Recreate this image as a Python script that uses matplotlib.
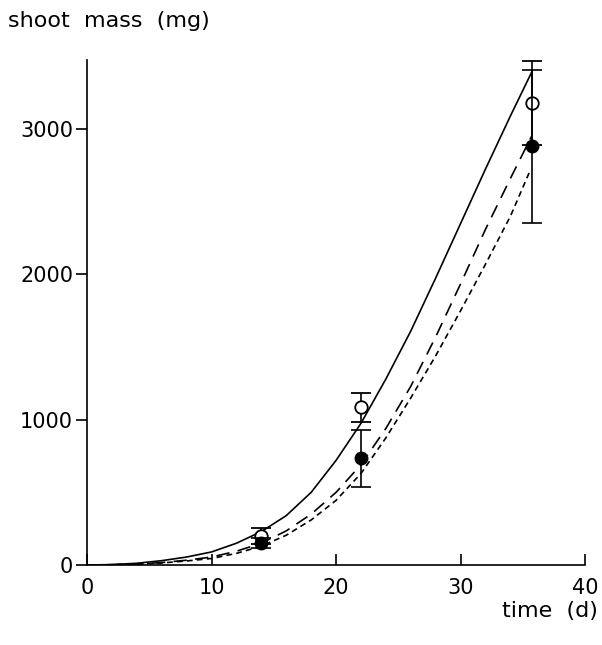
import numpy as np
import matplotlib
matplotlib.use("Agg")
import matplotlib.pyplot as plt

# Measured means and error bars (mg)
days = [14, 22, 35.7]
open_mass = [200, 1087, 3180]
open_err = [55, 100, 290]
filled_mass = [150, 736, 2880]
filled_err = [35, 196, 525]

# Fitted curves
solid_t = [0, 2, 4, 6, 8, 10, 12, 14, 16, 18, 20, 22, 24, 26, 28, 30, 32, 34, 35.7]
solid_m = [0, 3, 12, 30, 55, 90, 150, 230, 340, 500, 720, 975, 1280, 1610, 1975,
           2350, 2725, 3090, 3390]
long_t = [0, 2, 4, 6, 8, 10, 12, 14, 16, 18, 20, 22, 24, 26, 28, 30, 32, 34, 35.7]
long_m = [0, 2, 7, 17, 33, 55, 95, 150, 235, 350, 500, 690, 940, 1230, 1570,
          1935, 2310, 2660, 2950]
short_t = [0, 2, 4, 6, 8, 10, 12, 14, 16, 18, 20, 22, 24, 26, 28, 30, 32, 34, 35.6]
short_m = [0, 2, 6, 14, 28, 45, 80, 130, 205, 310, 445, 630, 875, 1150, 1440,
           1750, 2070, 2400, 2718]

plt.rcParams['font.family'] = ['DejaVu Sans']
fig = plt.figure(figsize=(6.02, 6.45), dpi=100)
ax = fig.add_axes([0.1445, 0.124, 0.8275, 0.783])

ax.plot(solid_t, solid_m, color='black', lw=1.2)
ax.plot(long_t, long_m, color='black', lw=1.2, dashes=(8, 5))
ax.plot(short_t, short_m, color='black', lw=1.2, dashes=(3.5, 2.5))

ax.errorbar(days, open_mass, yerr=open_err, fmt='o', mfc='white', mec='black',
            ecolor='black', color='black', ms=9, mew=1.3, capsize=7, elinewidth=1.2,
            capthick=1.2, zorder=3)
ax.errorbar(days, filled_mass, yerr=filled_err, fmt='o', mfc='black', mec='black',
            ecolor='black', color='black', ms=9, capsize=7, elinewidth=1.2,
            capthick=1.2, zorder=4)

ax.set_xlim(0, 40)
ax.set_ylim(0, 3475)
ax.set_xticks([0, 10, 20, 30, 40])
ax.set_yticks([0, 1000, 2000, 3000])
ax.spines['top'].set_visible(False)
ax.spines['right'].set_visible(False)
for s in ('left', 'bottom'):
    ax.spines[s].set_linewidth(1.2)
ax.tick_params(axis='x', direction='in', length=8, width=1.2, labelsize=15, pad=9)
ax.tick_params(axis='y', direction='out', length=8, width=1.2, labelsize=15, pad=2)

fig.text(0.013, 0.968, 'shoot  mass  (mg)', fontsize=16, ha='left', va='center')
fig.text(0.993, 0.052, 'time  (d)', fontsize=16, ha='right', va='center')

fig.savefig('out.png', dpi=100)
